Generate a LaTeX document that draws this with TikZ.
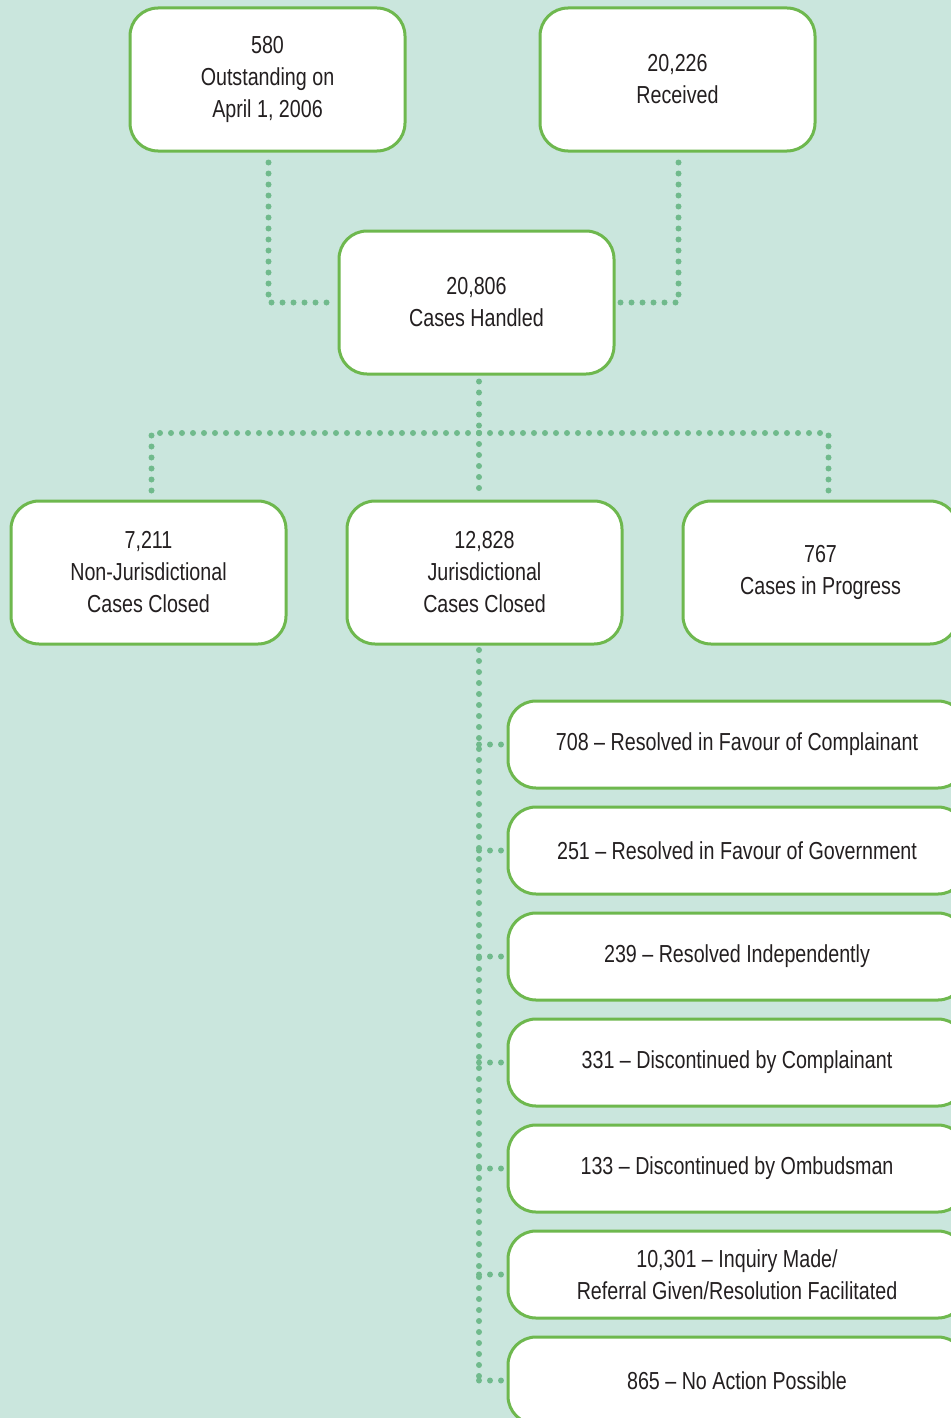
\documentclass[tikz,border=0pt]{standalone}
\usepackage{fontspec}
\setmainfont{Liberation Sans}[FakeStretch=0.8]
\definecolor{bgc}{RGB}{202,230,221}
\definecolor{boxline}{RGB}{110,184,78}
\definecolor{dotc}{RGB}{112,186,140}
\definecolor{txt}{RGB}{35,31,32}
\begin{document}
\begin{tikzpicture}[x=0.5pt,y=-0.5pt,
  bigbox/.style={draw=boxline,fill=white,line width=1.5pt,rounded corners=14pt,
    minimum width=137.5pt,minimum height=71.5pt,inner sep=0pt,align=center,
    text=txt,font=\fontsize{12.3}{16}\selectfont},
  rowbox/.style={draw=boxline,fill=white,line width=1.5pt,rounded corners=14pt,
    minimum width=229pt,minimum height=43.5pt,inner sep=0pt,align=center,
    text=txt,font=\fontsize{12.3}{16}\selectfont},
  dots/.style={draw=dotc,line width=3pt,line cap=round,dash pattern=on 0pt off 5.5pt}]
\useasboundingbox (0,0) rectangle (951,1418);
\fill[bgc] (0,0) rectangle (951,1418);
\begin{scope}
\clip (0,0) rectangle (951,1418);
\node[bigbox] (A) at (267.5,79.5) {580\\Outstanding on\\April 1, 2006};
\node[bigbox] (B) at (677.5,79.5) {20,226\\Received};
\node[bigbox] (C) at (476.5,302.5) {20,806\\Cases Handled};
\node[bigbox] (D) at (148.5,572.5) {7,211\\Non-Jurisdictional\\Cases Closed};
\node[bigbox] (E) at (484.5,572.5) {12,828\\Jurisdictional\\Cases Closed};
\node[bigbox] (F) at (820.5,572.5) {767\\Cases in Progress};
\node[rowbox] (R1) at (737,744.5) {708 -- Resolved in Favour of Complainant};
\node[rowbox] (R2) at (737,850.5) {251 -- Resolved in Favour of Government};
\node[rowbox] (R3) at (737,956.5) {239 -- Resolved Independently};
\node[rowbox] (R4) at (737,1062.5) {331 -- Discontinued by Complainant};
\node[rowbox] (R5) at (737,1168.5) {133 -- Discontinued by Ombudsman};
\node[rowbox] (R6) at (737,1274.5) {10,301 -- Inquiry Made/\\Referral Given/Resolution Facilitated};
\node[rowbox] (R7) at (737,1380.5) {865 -- No Action Possible};
\coordinate (hub) at (479,433);
\coordinate (spine) at (479,650);
\draw[dots,shorten <=5pt,shorten >=1.5pt] ([xshift=0.5pt]A.south) |- (C.west);
\draw[dots,shorten <=5pt,shorten >=1.5pt] ([xshift=0.5pt]B.south) |- (C.east);
\draw[dots,shorten <=3pt] (hub |- C.south) -- (hub);
\draw[dots,shorten >=3pt] (hub) -- (hub |- E.north);
\draw[dots,shorten >=3pt] (hub) -| ([xshift=1.5pt]D.north);
\draw[dots,shorten >=3pt] (hub) -| ([xshift=4pt]F.north);
\draw[dots] (spine) -- (spine |- R7.west);
\foreach \r in {R1,R2,R3,R4,R5,R6,R7}{
  \draw[dots,shorten >=2pt] (spine |- \r.west) -- (\r.west);
}
\end{scope}
\end{tikzpicture}
\end{document}
